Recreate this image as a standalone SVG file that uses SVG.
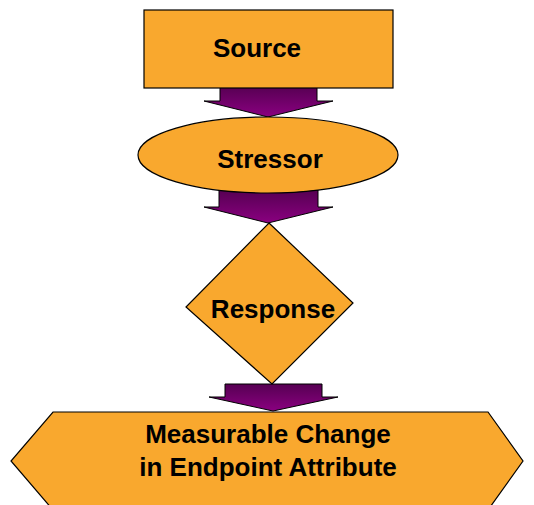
<svg xmlns="http://www.w3.org/2000/svg" width="534" height="505" viewBox="0 0 534 505">
<defs>
<linearGradient id="pg" x1="0" y1="0" x2="0" y2="1">
<stop offset="0" stop-color="#560052"/>
<stop offset="1" stop-color="#8A0080"/>
</linearGradient>
<style>
.node{fill:#F9A82E;stroke:#000;stroke-width:1.2}
.arr{fill:url(#pg);stroke:#000;stroke-width:1}
.lbl{font-family:"Liberation Sans",Arial,sans-serif;font-weight:bold;font-size:26px;fill:#000;text-anchor:middle}
</style>
</defs>
<rect width="534" height="505" fill="#fff"/>
<g id="connectors">
<path class="arr" d="M220,86 H317 V101 H333 L268,117 L204,101 H220 Z"/>
<path class="arr" d="M219,190 H318 V207 H333 L268,223 L204,207 H219 Z"/>
<path class="arr" d="M225,384 H322 V397 H338 L273,411 L209,397 H225 Z"/>
</g>
<g id="source">
<rect class="node" x="144" y="10" width="249" height="78"/>
<text class="lbl" x="257" y="57">Source</text>
</g>
<g id="stressor">
<ellipse class="node" cx="268" cy="155" rx="130" ry="38"/>
<text class="lbl" x="270" y="168">Stressor</text>
</g>
<g id="response">
<polygon class="node" points="269,223 353,303 272,384 186,307"/>
<text class="lbl" x="273" y="318">Response</text>
</g>
<g id="change">
<polygon class="node" points="53,412 488,412 523,461 488,510 53,510 11,461"/>
<text class="lbl" x="268" y="443">Measurable Change</text>
<text class="lbl" x="268" y="476">in Endpoint Attribute</text>
</g>
</svg>
